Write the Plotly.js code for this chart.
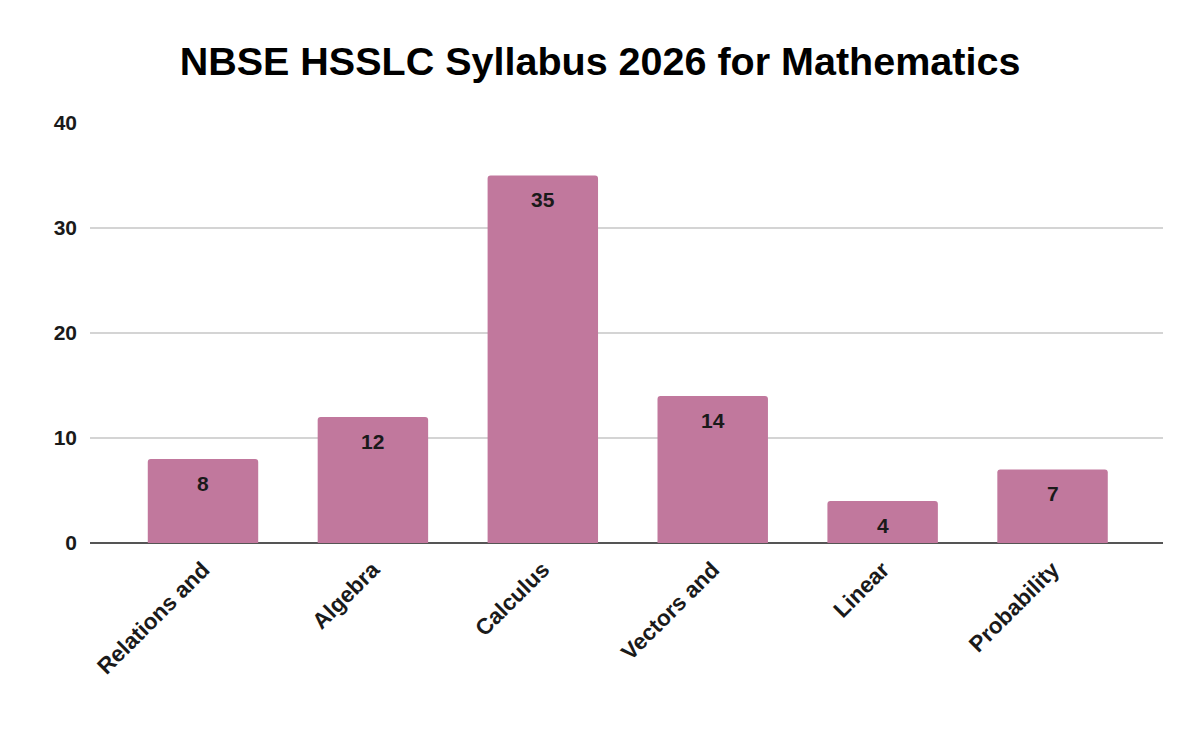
<!DOCTYPE html>
<html>
<head>
<meta charset="utf-8">
<script src="https://cdn.plot.ly/plotly-3.0.1.min.js"></script>
<style>
  html, body { margin: 0; padding: 0; background: #fff; }
  #chart { width: 1200px; height: 740px; }
</style>
</head>
<body>
<div id="chart"></div>
<script>
// Chart data
const topics = ["Relations and", "Algebra", "Calculus", "Vectors and", "Linear", "Probability"];
const marks = [8, 12, 35, 14, 4, 7];
const yTicks = [0, 10, 20, 30, 40];

const barColor = "#c1789d";
const fontFamily = "'Liberation Sans', Arial, sans-serif";

var trace = {
  type: "bar",
  x: topics,
  y: marks,
  marker: {color: barColor, cornerradius: 3},
  width: 0.65,
  hoverinfo: "x+y"
};

// value labels sit a little below the top of each bar
var valueLabels = topics.map(function(t, i) {
  return {
    x: t,
    y: marks[i],
    xref: "x",
    yref: "y",
    text: "<b>" + marks[i] + "</b>",
    showarrow: false,
    yanchor: "middle",
    yshift: -24,
    font: {family: fontFamily, size: 21, color: "#1a1a1a"}
  };
});

var layout = {
  width: 1200,
  height: 740,
  margin: {l: 90, r: 37, t: 123, b: 197},
  paper_bgcolor: "#ffffff",
  plot_bgcolor: "#ffffff",
  title: {
    text: "<b>NBSE HSSLC Syllabus 2026 for Mathematics</b>",
    x: 0.5,
    xanchor: "center",
    y: 0.918,
    yanchor: "middle",
    font: {family: fontFamily, size: 39.5, color: "#000"}
  },
  font: {family: fontFamily, color: "#1a1a1a"},
  xaxis: {
    range: [-0.665, 5.65],
    tickangle: -45,
    tickfont: {family: fontFamily, size: 22.5, color: "#1a1a1a", weight: "bold"},
    ticklabelstandoff: 8,
    showgrid: false,
    showline: false,
    ticks: "",
    zeroline: false
  },
  yaxis: {
    range: [0, 40],
    tickvals: yTicks,
    ticktext: yTicks.map(String),
    tickfont: {family: fontFamily, size: 21, color: "#1a1a1a", weight: "bold"},
    ticklabelstandoff: 12,
    showgrid: true,
    gridcolor: "#d4d4d4",
    gridwidth: 1.5,
    zeroline: true,
    zerolinecolor: "#555555",
    zerolinewidth: 2,
    showline: false,
    ticks: ""
  },
  annotations: valueLabels,
  showlegend: false
};

Plotly.newPlot("chart", [trace], layout, {displayModeBar: false, staticPlot: true});
</script>
</body>
</html>
